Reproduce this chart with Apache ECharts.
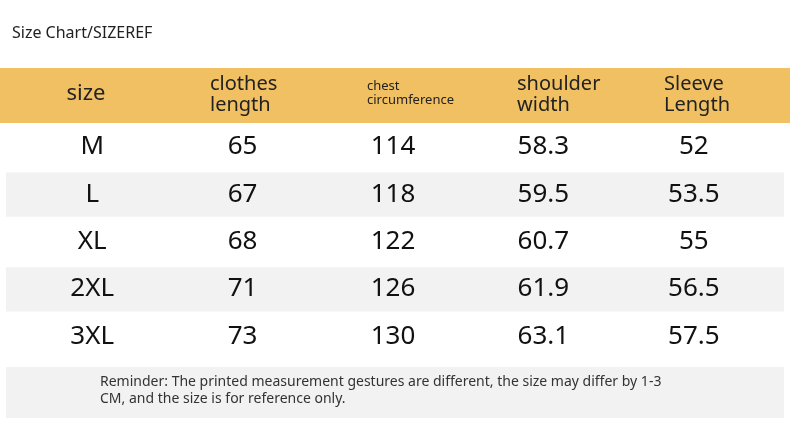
<!DOCTYPE html>
<html>
<head>
<meta charset="utf-8">
<script src="https://cdn.jsdelivr.net/npm/echarts@6/dist/echarts.min.js"></script>
<style>html,body{margin:0;padding:0;background:#fff}#chart{width:790px;height:427px}</style>
</head>
<body>
<div id="chart"></div>
<script>
var columns = ['size', 'clothes\nlength', 'chest\ncircumference', 'shoulder\nwidth', 'Sleeve\nLength'];
var sizes = ['M', 'L', 'XL', '2XL', '3XL'];
var clothesLength = [65, 67, 68, 71, 73];
var chest = [114, 118, 122, 126, 130];
var shoulder = [58.3, 59.5, 60.7, 61.9, 63.1];
var sleeve = [52, 53.5, 55, 56.5, 57.5];
var note = 'Reminder: The printed measurement gestures are different, the size may differ by 1-3\nCM, and the size is for reference only.';

var font = '"Noto Sans", sans-serif';
var cells = [];
for (var r = 0; r < sizes.length; r++) {
    var row = [sizes[r], clothesLength[r], chest[r], shoulder[r], sleeve[r]];
    for (var c = 0; c < row.length; c++) {
        cells.push([c, r, String(row[c])]);
    }
}

var chart = echarts.init(document.getElementById('chart'));
chart.setOption({
    backgroundColor: '#fff',
    animation: false,
    grid: { left: 17, width: 752, top: 123, height: 237 },
    xAxis: { type: 'category', data: [0, 1, 2, 3, 4], show: false },
    yAxis: { type: 'category', data: sizes, inverse: true, show: false },
    graphic: [
        { type: 'text', left: 12, top: 25, style: { text: 'Size Chart/SIZEREF', font: '16px ' + font, fill: '#222' } },
        { type: 'rect', shape: { x: 0, y: 68, width: 790, height: 55 }, style: { fill: '#F0C062' }, z: -1 },
        { type: 'text', x: 86, y: 94, style: { text: columns[0], font: '22px ' + font, fill: '#222', align: 'center', verticalAlign: 'middle' } },
        { type: 'text', x: 210, y: 95, style: { text: columns[1], font: '20px ' + font, lineHeight: 21, fill: '#222', verticalAlign: 'middle' } },
        { type: 'text', x: 367, y: 93, style: { text: columns[2], font: '13px ' + font, lineHeight: 14, fill: '#222', verticalAlign: 'middle' } },
        { type: 'text', x: 517, y: 95, style: { text: columns[3], font: '20px ' + font, lineHeight: 21, fill: '#222', verticalAlign: 'middle' } },
        { type: 'text', x: 664, y: 95, style: { text: columns[4], font: '20px ' + font, lineHeight: 21, fill: '#222', verticalAlign: 'middle' } },
        { type: 'rect', shape: { x: 6, y: 367, width: 778, height: 51 }, style: { fill: '#F2F2F2' }, z: -1 },
        { type: 'text', x: 100, y: 374, style: { text: note, font: '14px ' + font, lineHeight: 17, fill: '#333' } }
    ],
    series: [{
        type: 'custom',
        data: cells,
        renderItem: function (params, api) {
            var p = api.coord([api.value(0), api.value(1)]);
            var h = api.size([1, 1])[1];
            var children = [];
            if (api.value(0) === 0 && api.value(1) % 2 === 1) {
                children.push({ type: 'rect', shape: { x: 6, y: p[1] - h / 2 + 2, width: 778, height: h - 3 }, style: { fill: '#F2F2F2' }, z2: 0 });
            }
            children.push({ type: 'text', x: p[0], y: p[1], style: { text: api.value(2), font: '26px ' + font, fill: '#111', align: 'center', verticalAlign: 'middle' }, z2: 10 });
            return { type: 'group', children: children };
        },
        dimensions: ['col', 'row', { name: 'label', type: 'ordinal' }],
        encode: { x: 0, y: 1 }
    }]
});
</script>
</body>
</html>
